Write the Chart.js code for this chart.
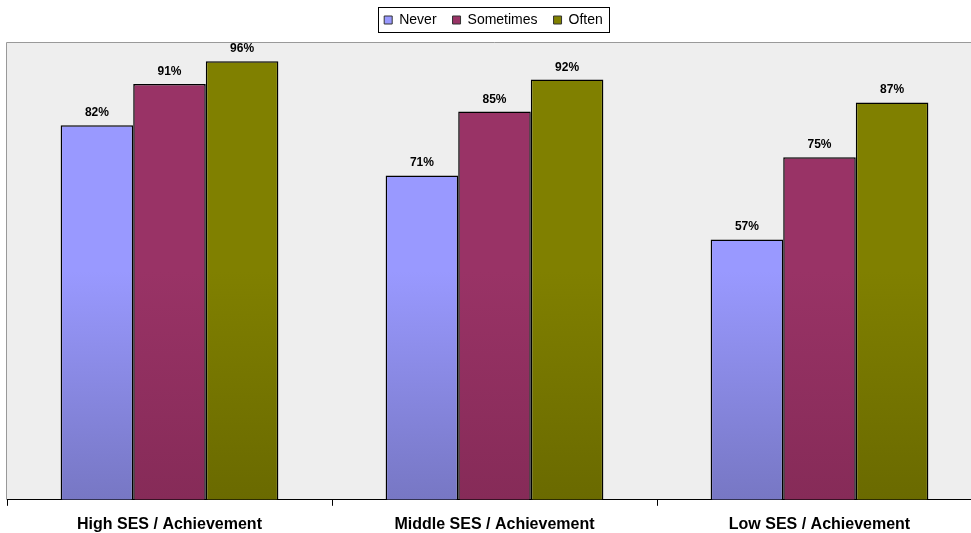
<!DOCTYPE html>
<html>
<head>
<meta charset="utf-8">
<script src="https://cdn.jsdelivr.net/npm/chart.js@4"></script>
<style>
  html, body { margin: 0; padding: 0; background: #fff; }
  #wrap { width: 971px; height: 533px; overflow: hidden; }
</style>
</head>
<body>
<div id="wrap"><canvas id="myChart" width="982" height="533"></canvas></div>
<script>
const categories = ['High SES / Achievement', 'Middle SES / Achievement', 'Low SES / Achievement'];
const seriesNames = ['Never', 'Sometimes', 'Often'];
const neverValues = [82, 71, 57];
const sometimesValues = [91, 85, 75];
const oftenValues = [96, 92, 87];

const FONT = 'Arial, "Liberation Sans", sans-serif';

// light colour at top, darker toward the axis
const fills = [
  ['#9999FF', '#7777C4'],
  ['#993366', '#862B58'],
  ['#808000', '#6A6A00']
];

function grad(i) {
  return function (ctx) {
    const chart = ctx.chart;
    const area = chart.chartArea;
    if (!area) return fills[i][0];
    const g = chart.ctx.createLinearGradient(0, area.top, 0, area.bottom);
    g.addColorStop(0, fills[i][0]);
    g.addColorStop(0.5, fills[i][0]);
    g.addColorStop(1, fills[i][1]);
    return g;
  };
}

// legend block a bit taller and nudged left (canvas is wider than the page)
const legendTweak = {
  id: 'legendTweak',
  beforeUpdate(chart) {
    const lg = chart.legend;
    if (lg && !lg._patched) {
      const fit = lg.fit;
      lg.fit = function () {
        fit.call(this);
        this.height += 6;
      };
      lg._patched = true;
    }
  },
  afterUpdate(chart) {
    const lg = chart.legend;
    if (!lg) return;
    lg.left -= 1;
    lg.right -= 1;
    (lg.legendHitBoxes || []).forEach(h => { h.left -= 1; });
  }
};

const plotBg = {
  id: 'plotBg',
  beforeDraw(chart) {
    const c = chart.ctx, a = chart.chartArea;
    c.save();
    c.fillStyle = '#EEEEEE';
    c.fillRect(a.left, a.top, a.right - a.left, a.bottom - a.top);
    c.strokeStyle = '#999999';
    c.lineWidth = 1;
    c.beginPath();
    c.moveTo(a.left - 0.5, a.bottom);
    c.lineTo(a.left - 0.5, a.top - 0.5);
    c.lineTo(a.right, a.top - 0.5);
    c.stroke();
    c.restore();
  },
  afterDraw(chart) {
    const lg = chart.legend;
    if (!lg || !lg.legendHitBoxes || !lg.legendHitBoxes.length) return;
    const boxes = lg.legendHitBoxes;
    const l = boxes[0].left - 6;
    const r = boxes[boxes.length - 1].left + boxes[boxes.length - 1].width + 6;
    const t = boxes[0].top - 6;
    const b = boxes[0].top + boxes[0].height + 5;
    const c = chart.ctx;
    c.save();
    c.strokeStyle = '#000';
    c.lineWidth = 1;
    c.strokeRect(Math.round(l) + 0.5, Math.round(t) + 0.5, Math.round(r - l), Math.round(b - t));
    c.restore();
  }
};

const valueLabels = {
  id: 'valueLabels',
  afterDatasetsDraw(chart) {
    const c = chart.ctx;
    c.save();
    c.font = 'bold 12px ' + FONT;
    c.fillStyle = '#000';
    c.textAlign = 'center';
    c.textBaseline = 'alphabetic';
    chart.data.datasets.forEach((ds, i) => {
      chart.getDatasetMeta(i).data.forEach((bar, j) => {
        c.fillText(ds.data[j] + '%', bar.x, bar.y - 9);
      });
    });
    c.restore();
  }
};

new Chart(document.getElementById('myChart'), {
  type: 'bar',
  data: {
    labels: categories,
    datasets: [
      { label: seriesNames[0], data: neverValues, backgroundColor: grad(0), borderColor: '#000', borderWidth: 1.5, borderSkipped: 'bottom' },
      { label: seriesNames[1], data: sometimesValues, backgroundColor: grad(1), borderColor: '#000', borderWidth: 1.5, borderSkipped: 'bottom' },
      { label: seriesNames[2], data: oftenValues, backgroundColor: grad(2), borderColor: '#000', borderWidth: 1.5, borderSkipped: 'bottom' }
    ]
  },
  options: {
    responsive: false,
    animation: false,
    categoryPercentage: 0.67,
    barPercentage: 1.0,
    layout: { padding: { left: 7, right: 0, top: -3, bottom: -10 } },
    plugins: {
      tooltip: { enabled: false },
      legend: {
        position: 'top',
        labels: {
          boxWidth: 8,
          boxHeight: 8,
          padding: 16,
          color: '#000',
          font: { family: FONT, size: 14 },
          generateLabels(chart) {
            return chart.data.datasets.map((ds, i) => ({
              text: ds.label,
              fillStyle: fills[i][0],
              strokeStyle: '#333',
              lineWidth: 1,
              datasetIndex: i
            }));
          }
        }
      }
    },
    scales: {
      x: {
        grid: {
          offset: true,
          drawOnChartArea: false,
          drawTicks: true,
          tickLength: 6,
          color: '#000'
        },
        border: { color: '#000', width: 1 },
        ticks: {
          color: '#000',
          padding: 9,
          font: { family: FONT, size: 16, weight: 'bold' }
        }
      },
      y: {
        display: false,
        min: 0,
        max: 100
      }
    }
  },
  plugins: [legendTweak, plotBg, valueLabels]
});
</script>
</body>
</html>
